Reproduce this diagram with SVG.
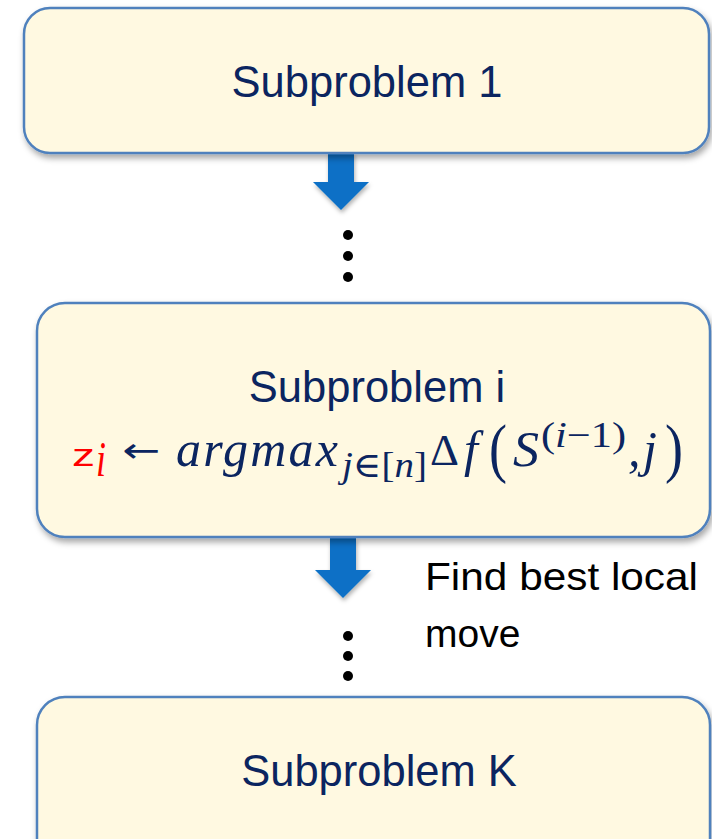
<svg xmlns="http://www.w3.org/2000/svg" width="712" height="839" viewBox="0 0 712 839">
<defs>
<filter id="sh" x="-10%" y="-10%" width="130%" height="140%">
<feDropShadow dx="2" dy="4" stdDeviation="3" flood-color="#000" flood-opacity="0.35"/>
</filter>
<filter id="ash" x="-30%" y="-30%" width="160%" height="160%">
<feDropShadow dx="1" dy="3" stdDeviation="2" flood-color="#000" flood-opacity="0.3"/>
</filter>
</defs>
<style>
.box{fill:#FFF9E1;stroke:#4F81BD;stroke-width:2.5;filter:url(#sh)}
.lbl{font-family:"Liberation Sans",Arial,sans-serif;font-size:43.5px;fill:#0B2560;text-anchor:middle}
.m{font-family:"Liberation Serif","Times New Roman",serif;font-style:italic;font-size:50px;fill:#0B2560}
.mu{font-family:"Liberation Serif","DejaVu Serif",serif;font-style:normal;fill:#0B2560}
.sub{font-size:35px}
.arr{fill:#0B6FC6;filter:url(#ash)}
.dot{fill:#000}
.note{font-family:"Liberation Sans",Arial,sans-serif;font-size:39px;fill:#000}
</style>
<rect width="712" height="839" fill="#fff"/>
<g id="connectors">
<path class="arr" d="M328,152 H354 V182 H369 L341,210 L313,182 H328 Z"/>
<circle class="dot" cx="348" cy="235" r="5"/>
<circle class="dot" cx="348" cy="256" r="5"/>
<circle class="dot" cx="348" cy="277" r="5"/>
<path class="arr" d="M330,538 H356 V570 H371 L343,598 L315,570 H330 Z"/>
<circle class="dot" cx="348" cy="636" r="5"/>
<circle class="dot" cx="348" cy="656" r="5"/>
<circle class="dot" cx="348" cy="676" r="5"/>
</g>
<g id="node1">
<rect class="box" x="24" y="8" width="685" height="145" rx="26"/>
<text class="lbl" x="367" y="97">Subproblem 1</text>
</g>
<g id="node2">
<rect class="box" x="37" y="303" width="673" height="234" rx="28"/>
<text class="lbl" x="377" y="402">Subproblem i</text>
<text x="72" y="466" font-family="Liberation Sans,Arial,sans-serif" font-size="31" fill="#FF0000" textLength="23" lengthAdjust="spacingAndGlyphs">z</text>
<text class="m" x="96" y="476" font-size="32" style="fill:#FF0000" textLength="10" lengthAdjust="spacingAndGlyphs">i</text>
<text x="122" y="462" font-family="DejaVu Sans,sans-serif" font-size="34" fill="#0B2560" textLength="38" lengthAdjust="spacingAndGlyphs">←</text>
<text class="m" x="176" y="466" textLength="162" lengthAdjust="spacing">argmax</text>
<text class="m sub" x="342" y="477" textLength="85" lengthAdjust="spacingAndGlyphs">j<tspan class="mu">∈[</tspan>n<tspan class="mu">]</tspan></text>
<text class="mu" x="430" y="465" font-size="45">Δ</text>
<text class="m" x="464" y="466">f</text>
<text class="mu" x="489" y="470" font-size="66" textLength="18" lengthAdjust="spacingAndGlyphs">(</text>
<text class="m" x="513" y="466" textLength="26" lengthAdjust="spacingAndGlyphs">S</text>
<text class="m sub" x="541" y="447" textLength="85" lengthAdjust="spacingAndGlyphs"><tspan class="mu">(</tspan>i<tspan class="mu">−1)</tspan></text>
<text class="m" x="628" y="466">,</text>
<text class="m" x="643" y="466">j</text>
<text class="mu" x="665" y="470" font-size="66" textLength="18" lengthAdjust="spacingAndGlyphs">)</text>
</g>
<g id="note">
<text class="note" x="425" y="590" textLength="273" lengthAdjust="spacingAndGlyphs">Find best local</text>
<text class="note" x="425" y="647">move</text>
</g>
<g id="node3">
<rect class="box" x="37" y="697" width="673" height="170" rx="28"/>
<text class="lbl" x="379" y="786">Subproblem K</text>
</g>
</svg>
